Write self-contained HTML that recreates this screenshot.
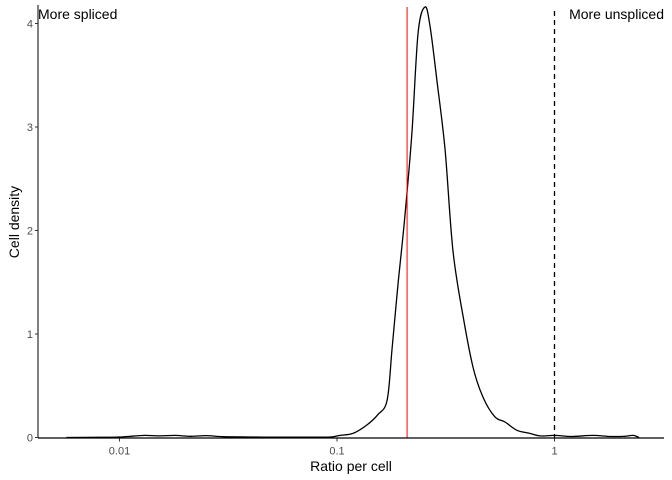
<!DOCTYPE html>
<html><head><meta charset="utf-8"><style>
body{margin:0;background:#fff}
svg{display:block;font-family:"Liberation Sans",sans-serif}
</style></head><body>
<svg id="c" width="672" height="480"></svg>
<script>
const ratios=[0.0057,0.008,0.01,0.013,0.015,0.018,0.021,0.025,0.03,0.04,0.055,0.07,0.085,0.095,0.103,0.1185,0.137,0.154,0.170,0.179,0.191,0.205,0.221,0.236,0.254,0.268,0.288,0.314,0.341,0.380,0.422,0.469,0.532,0.592,0.672,0.771,0.857,1.0,1.2,1.5,1.8,2.1,2.3,2.45];
const densities=[0,0.002,0.005,0.02,0.015,0.02,0.012,0.018,0.008,0.005,0.003,0.004,0.003,0.006,0.02,0.04,0.12,0.22,0.36,0.85,1.49,2.13,2.94,3.91,4.16,3.97,3.45,2.78,1.81,1.17,0.68,0.39,0.20,0.15,0.07,0.04,0.015,0.02,0.01,0.02,0.01,0.012,0.02,0];
const xTicks=[0.01,0.1,1];
const xTickLabels=["0.01","0.1","1"];
const yTicks=[0,1,2,3,4];
const medianRatio=0.21;
const thresholdRatio=1;

const svg=document.getElementById('c');
const NS='http://www.w3.org/2000/svg';
const L=38,R=664,T=5,B=437.5;
const X=v=>337+217.5*(Math.log10(v)+1);
const Y=v=>B-103.5*v;
function mk(tag,attrs,parent){const e=document.createElementNS(NS,tag);for(const k in attrs)e.setAttribute(k,attrs[k]);(parent||svg).appendChild(e);return e;}

let e=mk('line',{x1:L,x2:L,y1:T,y2:B+0.5,stroke:'#000','stroke-width':1});


yTicks.forEach(t=>{
  let tk=mk('line',{x1:L-3,x2:L,y1:Y(t),y2:Y(t),stroke:'#333'});
  
  
  let tx=mk('text',{x:L-5,y:Y(t)+4,'text-anchor':'end','font-size':11,fill:'#4d4d4d'});
  tx.textContent=t;
  
  
});
e=mk('line',{x1:L,x2:R,y1:B+0.5,y2:B+0.5,stroke:'#000','stroke-width':1.2});


xTicks.forEach((t,i)=>{
  let tk=mk('line',{x1:X(t),x2:X(t),y1:B+1,y2:B+4,stroke:'#333'});
  
  
  let tx=mk('text',{x:X(t),y:B+17,'text-anchor':'middle','font-size':11,fill:'#4d4d4d'});
  tx.textContent=xTickLabels[i];
  
  
});
e=mk('text',{x:351,y:471,'text-anchor':'middle','font-size':14,fill:'#000'});
e.textContent='Ratio per cell';


e=mk('text',{x:19,y:222,'text-anchor':'middle','font-size':14,fill:'#000',transform:'rotate(-90 19 222)'});
e.textContent='Cell density';



// smoothed density curve (Catmull-Rom)
const pts=ratios.map((r,i)=>[X(r),Y(densities[i])]);
let d='M'+pts[0][0].toFixed(1)+','+pts[0][1].toFixed(1);
for(let i=0;i<pts.length-1;i++){
  const p0=pts[Math.max(0,i-1)],p1=pts[i],p2=pts[i+1],p3=pts[Math.min(pts.length-1,i+2)];
  const c1=[p1[0]+(p2[0]-p0[0])/6,p1[1]+(p2[1]-p0[1])/6];
  const c2=[p2[0]-(p3[0]-p1[0])/6,p2[1]-(p3[1]-p1[1])/6];
  d+='C'+c1[0].toFixed(1)+','+c1[1].toFixed(1)+' '+c2[0].toFixed(1)+','+c2[1].toFixed(1)+' '+p2[0].toFixed(1)+','+p2[1].toFixed(1);
}
e=mk('path',{d:d,fill:'none',stroke:'#000','stroke-width':1.3,'stroke-linejoin':'round'});



e=mk('line',{x1:X(medianRatio),x2:X(medianRatio),y1:7,y2:B,stroke:'#ff0000','stroke-width':1});


e=mk('line',{x1:X(thresholdRatio),x2:X(thresholdRatio),y1:11,y2:B,stroke:'#000','stroke-width':1.3,'stroke-dasharray':'5,4'});



e=mk('text',{x:L,y:19,'font-size':14,fill:'#000'});
e.textContent='More spliced';


e=mk('text',{x:R,y:19,'text-anchor':'end','font-size':14,fill:'#000'});
e.textContent='More unspliced';


</script>
</body></html>
